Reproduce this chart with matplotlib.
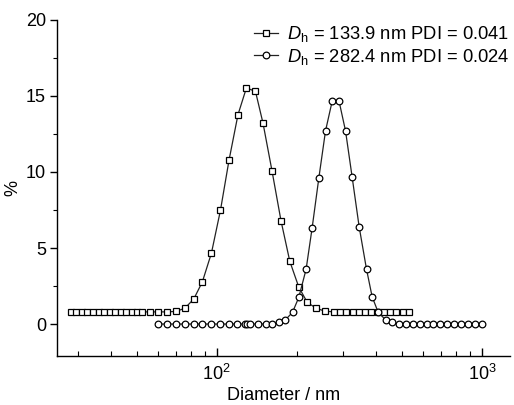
import matplotlib
matplotlib.use('Agg')
import matplotlib.pyplot as plt
from matplotlib.ticker import LogLocator, MultipleLocator, NullFormatter

plt.rcParams['font.family'] = ['Liberation Sans', 'DejaVu Sans']
plt.rcParams['mathtext.fontset'] = 'custom'
plt.rcParams['mathtext.rm'] = 'Liberation Sans'
plt.rcParams['mathtext.it'] = 'Liberation Sans:italic'

# sample 1 (squares)
d1 = [28.1, 29.55, 31.0, 32.5, 34.1, 35.9, 37.6, 39.5, 41.5, 43.4, 45.6, 47.9, 50.2, 52.4,
      55.9, 60.3, 64.9, 70.0, 75.7, 81.9, 88.3, 95.5, 103.3, 111.3, 120.3, 129.4, 140.0,
      149.5, 161.7, 174.8, 188.6, 203.9, 219.6, 237.8, 255.6, 276.4, 291.9, 308.2, 325.4,
      343.5, 362.6, 382.8, 404.3, 426.8, 450.6, 475.8, 502.2, 530.4]
p1 = [0.8, 0.8, 0.8, 0.8, 0.8, 0.8, 0.8, 0.8, 0.8, 0.8, 0.8, 0.8, 0.8, 0.8,
      0.8, 0.8, 0.8, 0.83, 1.03, 1.64, 2.78, 4.66, 7.48, 10.78, 13.77, 15.52, 15.3,
      13.2, 10.05, 6.78, 4.13, 2.43, 1.42, 1.03, 0.85, 0.8, 0.8, 0.8, 0.8,
      0.8, 0.8, 0.8, 0.8, 0.8, 0.8, 0.8, 0.8, 0.8]

# sample 2 (circles)
d2 = [60.3, 64.9, 70.0, 75.7, 81.9, 88.3, 95.5, 102.9, 111.0, 119.7, 127.5, 130.6, 134.0,
      142.8, 153.1, 161.7, 171.8, 181.6, 193.1, 203.9, 217.3, 228.9, 242.7, 257.2, 272.4,
      289.4, 306.0, 324.0, 344.4, 367.2, 385.5, 406.3, 433.2, 458.7, 486.2, 516.8, 548.6,
      582.6, 618.5, 656.8, 697.3, 740.4, 786.2, 834.8, 886.3, 941.0, 1000.0]
p2 = [0, 0, 0, 0, 0, 0, 0, 0, 0, 0, 0, 0, 0,
      0, 0, 0, 0.11, 0.28, 0.77, 1.75, 3.6, 6.3, 9.6, 12.7, 14.64,
      14.64, 12.7, 9.68, 6.4, 3.6, 1.8, 0.77, 0.28, 0.11, 0, 0, 0,
      0, 0, 0, 0, 0, 0, 0, 0, 0, 0]

labels = [r'$\mathit{D}_\mathrm{h}$ = 133.9 nm PDI = 0.041',
          r'$\mathit{D}_\mathrm{h}$ = 282.4 nm PDI = 0.024']

fig = plt.figure(figsize=(5.14, 4.05), dpi=100)
ax = fig.add_axes([0.111, 0.121, 0.881, 0.830])

ax.plot(d1, p1, '-', color='#222222', lw=0.9, marker='s', ms=4.2, mfc='white',
        mec='black', mew=0.9, label=labels[0])
ax.plot(d2, p2, '-', color='#222222', lw=0.9, marker='o', ms=4.8, mfc='white',
        mec='black', mew=0.9, label=labels[1])

ax.set_xscale('log')
ax.set_xlim(25, 1275)
ax.set_ylim(-2.1, 20)
ax.xaxis.set_major_locator(LogLocator(base=10))
ax.xaxis.set_minor_locator(LogLocator(base=10, subs=range(2, 10)))
ax.xaxis.set_minor_formatter(NullFormatter())
ax.yaxis.set_major_locator(MultipleLocator(5))
ax.yaxis.set_minor_locator(MultipleLocator(2.5))

for s in ['top', 'right']:
    ax.spines[s].set_visible(False)
for s in ['left', 'bottom']:
    ax.spines[s].set_linewidth(1.0)

ax.tick_params(axis='x', which='major', direction='in', length=6, width=1, labelsize=13, pad=6)
ax.tick_params(axis='x', which='minor', direction='in', length=3.5, width=0.8)
ax.tick_params(axis='y', which='major', direction='out', length=5, width=1, labelsize=13, pad=3)
ax.tick_params(axis='y', which='minor', direction='out', length=3, width=0.8)

ax.set_xlabel('Diameter / nm', fontsize=13, labelpad=2)
ax.set_ylabel('%', fontsize=13, labelpad=3)

ax.legend(loc='upper right', bbox_to_anchor=(1.024, 1.02), frameon=False, fontsize=13.2,
          handlelength=1.3, handletextpad=0.5, labelspacing=0.15, borderaxespad=0.2)

fig.savefig('out.png', dpi=100)
